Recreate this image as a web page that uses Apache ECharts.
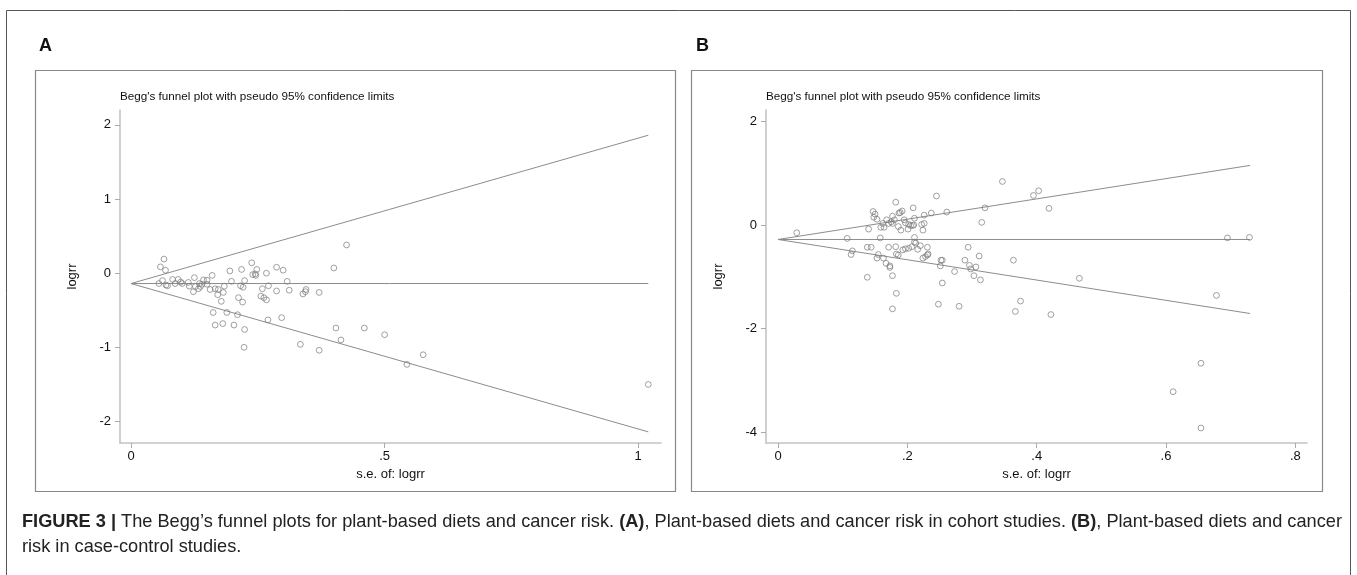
<!DOCTYPE html>
<html><head><meta charset="utf-8">
<script src="https://cdn.jsdelivr.net/npm/echarts@6/dist/echarts.min.js"></script>
<style>html,body{margin:0;padding:0;background:#fff;}#c{width:1357px;height:575px;}</style>
</head><body><div id="c"></div>
<script>
// Panel A: cohort studies (se, logrr)
const pointsA = [[0.065,0.19],[0.058,0.085],[0.068,0.04],[0.055,-0.14],[0.062,-0.10],[0.069,-0.16],[0.072,-0.17],[0.082,-0.085],[0.087,-0.14],[0.093,-0.085],[0.098,-0.12],[0.101,-0.14],[0.113,-0.125],[0.115,-0.175],[0.125,-0.06],[0.123,-0.25],[0.127,-0.18],[0.135,-0.14],[0.137,-0.18],[0.133,-0.21],[0.143,-0.09],[0.14,-0.15],[0.15,-0.095],[0.15,-0.15],[0.156,-0.22],[0.16,-0.03],[0.166,-0.21],[0.172,-0.22],[0.171,-0.29],[0.182,-0.26],[0.184,-0.175],[0.178,-0.38],[0.162,-0.53],[0.166,-0.70],[0.181,-0.68],[0.189,-0.53],[0.195,0.03],[0.198,-0.11],[0.203,-0.70],[0.21,-0.56],[0.212,-0.33],[0.218,0.05],[0.216,-0.17],[0.221,-0.19],[0.22,-0.39],[0.224,-0.10],[0.224,-0.76],[0.223,-1.0],[0.238,0.14],[0.24,-0.02],[0.245,-0.01],[0.246,-0.03],[0.248,0.05],[0.259,-0.21],[0.256,-0.31],[0.262,-0.33],[0.267,-0.36],[0.267,0.0],[0.271,-0.17],[0.27,-0.63],[0.287,0.08],[0.287,-0.24],[0.30,0.04],[0.297,-0.60],[0.308,-0.11],[0.312,-0.23],[0.345,-0.22],[0.344,-0.25],[0.339,-0.28],[0.371,-0.26],[0.334,-0.96],[0.371,-1.04],[0.404,-0.74],[0.414,-0.90],[0.425,0.38],[0.40,0.07],[0.46,-0.74],[0.50,-0.83],[0.544,-1.23],[0.576,-1.10],[1.02,-1.50]];
// Panel A funnel lines
const pooledA = [[0,-0.14],[1.02,-0.14]];
const upperA = [[0,-0.14],[1.02,1.86]];
const lowerA = [[0,-0.14],[1.02,-2.14]];
const xTicksA = [0,0.5,1];
const xLabelsA = ['0','.5','1'];
const yTicksA = [-2,-1,0,1,2];
const yLabelsA = ['-2','-1','0','1','2'];

// Panel B: case-control studies (se, logrr)
const pointsB = [[0.029,-0.15],[0.107,-0.26],[0.115,-0.50],[0.113,-0.57],[0.138,-1.01],[0.138,-0.43],[0.144,-0.43],[0.140,-0.08],[0.147,0.26],[0.150,0.21],[0.148,0.15],[0.153,0.11],[0.159,-0.045],[0.162,0.03],[0.164,-0.045],[0.158,-0.25],[0.155,-0.57],[0.153,-0.64],[0.163,-0.64],[0.167,-0.74],[0.173,-0.79],[0.173,-0.82],[0.177,-0.98],[0.183,-1.32],[0.177,-1.62],[0.168,0.10],[0.171,0.03],[0.175,0.06],[0.177,0.03],[0.177,0.17],[0.180,0.10],[0.171,-0.43],[0.182,0.44],[0.187,0.23],[0.189,0.24],[0.192,0.27],[0.182,-0.42],[0.183,-0.56],[0.186,-0.58],[0.186,-0.03],[0.190,-0.10],[0.195,0.10],[0.197,0.04],[0.193,-0.48],[0.197,-0.46],[0.202,-0.45],[0.201,-0.08],[0.202,0.01],[0.205,-0.01],[0.208,-0.01],[0.21,0.0],[0.211,0.13],[0.209,0.33],[0.207,-0.42],[0.211,-0.24],[0.211,-0.33],[0.213,-0.35],[0.216,-0.47],[0.22,-0.40],[0.224,-0.10],[0.222,0.01],[0.226,0.03],[0.226,0.19],[0.224,-0.64],[0.228,-0.61],[0.231,-0.58],[0.232,-0.56],[0.231,-0.43],[0.237,0.23],[0.245,0.56],[0.248,-1.53],[0.252,-0.68],[0.254,-0.68],[0.251,-0.79],[0.254,-1.12],[0.261,0.25],[0.273,-0.90],[0.28,-1.57],[0.294,-0.43],[0.289,-0.68],[0.311,-0.60],[0.296,-0.78],[0.298,-0.85],[0.306,-0.81],[0.303,-0.98],[0.313,-1.06],[0.347,0.84],[0.395,0.57],[0.403,0.66],[0.32,0.33],[0.315,0.05],[0.419,0.32],[0.364,-0.68],[0.466,-1.03],[0.375,-1.47],[0.367,-1.67],[0.422,-1.73],[0.695,-0.25],[0.729,-0.24],[0.678,-1.36],[0.654,-2.67],[0.611,-3.22],[0.654,-3.92]];
const pooledB = [[0,-0.28],[0.73,-0.28]];
const upperB = [[0,-0.28],[0.73,1.15]];
const lowerB = [[0,-0.28],[0.73,-1.71]];
const xTicksB = [0,0.2,0.4,0.6,0.8];
const xLabelsB = ['0','.2','.4','.6','.8'];
const yTicksB = [-4,-2,0,2];
const yLabelsB = ['-4','-2','0','2'];

const titleText = "Begg's funnel plot with pseudo 95% confidence limits";
const FONT = '"Liberation Sans", Arial, Helvetica, sans-serif';

function lbl(ticks, labels){ const m = {}; ticks.forEach((t,i)=>m[t]=labels[i]); return v => (m[v] !== undefined ? m[v] : ''); }

function xAx(gi, min, max, ticks, labels){
  return { type:'value', gridIndex:gi, min, max,
    axisLine:{show:true, onZero:false, lineStyle:{color:'#c4c4c4', width:1.6}},
    axisTick:{show:true, customValues:ticks, length:5, lineStyle:{color:'#aaa'}},
    axisLabel:{customValues:ticks, formatter:lbl(ticks,labels), color:'#111', fontFamily:FONT, fontSize:13, margin:7},
    splitLine:{show:false},
    name:'s.e. of: logrr', nameLocation:'middle', nameGap:20,
    nameTextStyle:{color:'#111', fontFamily:FONT, fontSize:13} };
}
function yAx(gi, min, max, ticks, labels){
  return { type:'value', gridIndex:gi, min, max,
    axisLine:{show:true, onZero:false, lineStyle:{color:'#c4c4c4', width:1.6}},
    axisTick:{show:true, customValues:ticks, length:5, lineStyle:{color:'#aaa'}},
    axisLabel:{customValues:ticks, formatter:lbl(ticks,labels), color:'#111', fontFamily:FONT, fontSize:13, margin:9},
    splitLine:{show:false},
    name:'logrr', nameLocation:'middle', nameGap:41, nameRotate:90,
    nameTextStyle:{color:'#111', fontFamily:FONT, fontSize:13} };
}
function lineSeries(xi, data){
  return { type:'line', xAxisIndex:xi, yAxisIndex:xi, data, symbol:'none', silent:true,
    lineStyle:{color:'#8c8c8c', width:1}, z:2, animation:false };
}
function scatterSeries(xi, data){
  return { type:'scatter', xAxisIndex:xi, yAxisIndex:xi, data, symbol:'circle', symbolSize:5.8,
    itemStyle:{color:'rgba(255,255,255,0)', borderColor:'#7a7a7a', borderWidth:0.9}, z:3, animation:false };
}

const chart = echarts.init(document.getElementById('c'), null, {renderer:'canvas'});
chart.setOption({
  backgroundColor:'#fff',
  animation:false,
  grid:[
    {left:120, top:110, width:541, height:333},
    {left:766, top:110, width:541, height:333}
  ],
  xAxis:[ xAx(0,-0.0217,1.045,xTicksA,xLabelsA), xAx(1,-0.0186,0.818,xTicksB,xLabelsB) ],
  yAxis:[ yAx(0,-2.29,2.2,yTicksA,yLabelsA), yAx(1,-4.21,2.22,yTicksB,yLabelsB) ],
  series:[
    lineSeries(0,pooledA), lineSeries(0,upperA), lineSeries(0,lowerA), scatterSeries(0,pointsA),
    lineSeries(1,pooledB), lineSeries(1,upperB), lineSeries(1,lowerB), scatterSeries(1,pointsB)
  ],
  graphic:[
    {type:'rect', shape:{x:6.5,y:10.5,width:1344,height:600}, style:{fill:'none', stroke:'#555', lineWidth:1}, silent:true},
    {type:'rect', shape:{x:35.5,y:70.5,width:640,height:421}, style:{fill:'none', stroke:'#888', lineWidth:1.2}, silent:true},
    {type:'rect', shape:{x:691.5,y:70.5,width:631,height:421}, style:{fill:'none', stroke:'#888', lineWidth:1.2}, silent:true},
    {type:'text', left:39, top:37, style:{text:'A', font:'bold 18px '+FONT, fill:'#111'}},
    {type:'text', left:696, top:37, style:{text:'B', font:'bold 18px '+FONT, fill:'#111'}},
    {type:'text', left:120, top:91, style:{text:titleText, font:'11.7px '+FONT, fill:'#111'}},
    {type:'text', left:766, top:91, style:{text:titleText, font:'11.7px '+FONT, fill:'#111'}},
    {type:'text', left:22, top:509, style:{
      text:'{b|FIGURE 3 |} The Begg\u2019s funnel plots for plant-based diets and cancer risk. {b|(A)}, Plant-based diets and cancer risk in cohort studies. {b|(B)}, Plant-based diets and cancer\nrisk in case-control studies.',
      font:'18.2px '+FONT, fill:'#222', lineHeight:25,
      rich:{b:{font:'bold 18.2px '+FONT, fill:'#222', lineHeight:25}}
    }}
  ]
});
</script></body></html>
